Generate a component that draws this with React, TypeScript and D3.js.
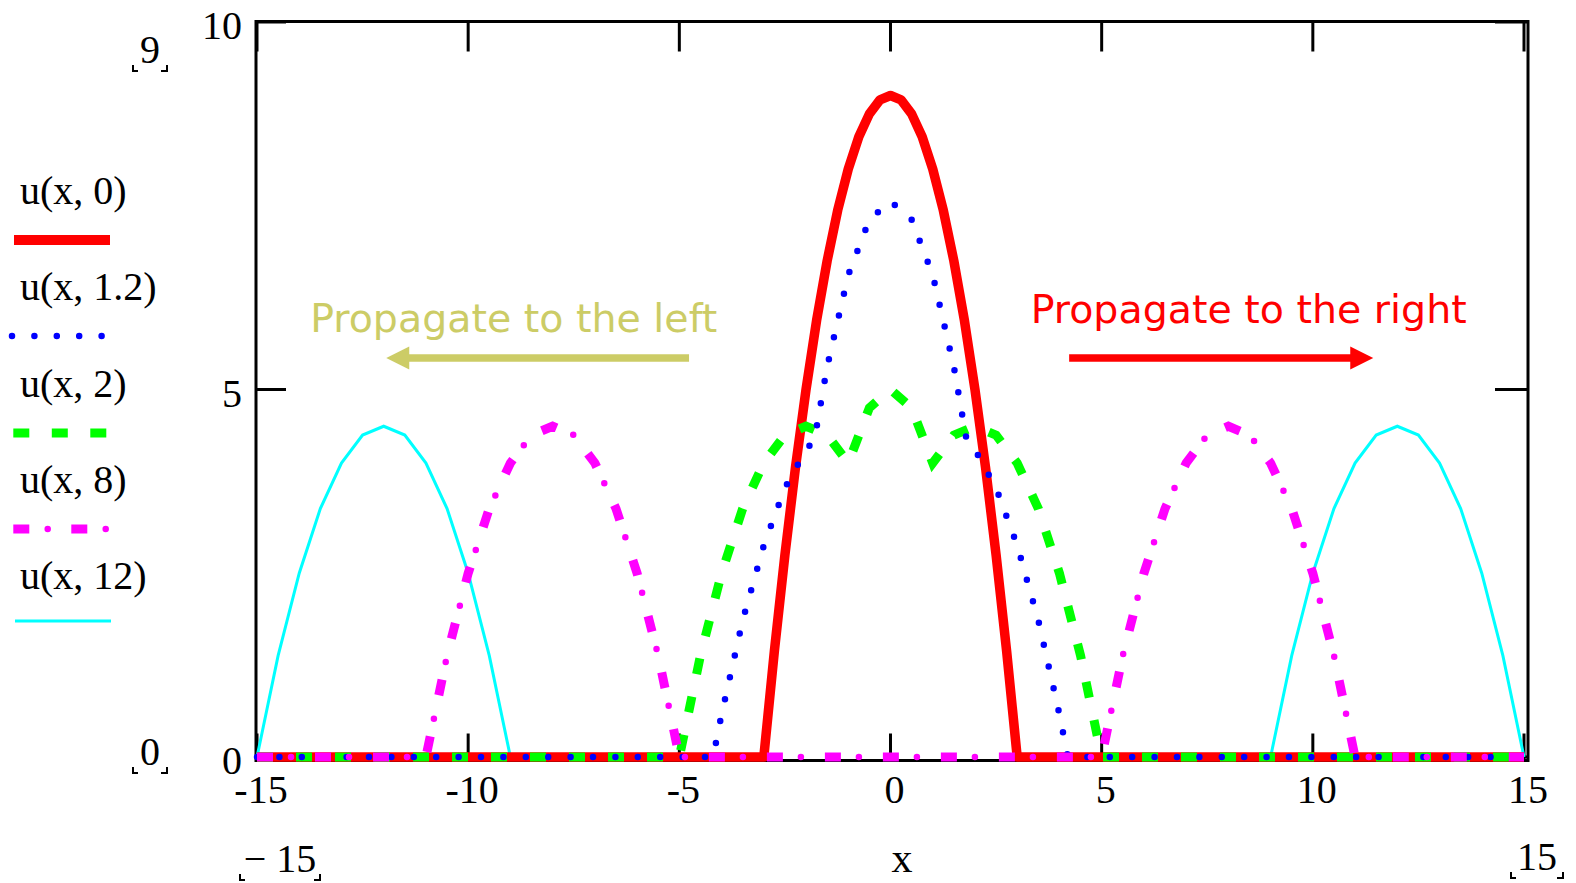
import React from "react";
import * as d3 from "d3";

const W = 1576;
const H = 883;

// u(x,0)  initial bump
const redX = [-15, -3, -2.75, -2.5, -2.25, -2, -1.75, -1.5, -1.25, -1, -0.75, -0.5, -0.25, 0, 0.25, 0.5, 0.75, 1, 1.25, 1.5, 1.75, 2, 2.25, 2.5, 2.75, 3, 15];
const redU = [0, 0, 1.44, 2.75, 3.94, 5, 5.94, 6.75, 7.44, 8, 8.44, 8.75, 8.94, 9, 8.94, 8.75, 8.44, 8, 7.44, 6.75, 5.94, 5, 3.94, 2.75, 1.44, 0, 0];

// u(x,1.2)
const blueX = [-15, -4.2, -4, -3.5, -3, -2.5, -2, -1.8, -1.5, -1, -0.5, 0, 0.5, 1, 1.5, 1.8, 2, 2.5, 3, 3.5, 4, 4.2, 15];
const blueU = [0, 0, 0.58, 1.86, 2.88, 3.66, 4.18, 4.32, 5.31, 6.56, 7.31, 7.56, 7.31, 6.56, 5.31, 4.32, 4.18, 3.66, 2.88, 1.86, 0.58, 0, 0];

// u(x,2)
const greenX = [-15, -5, -4.5, -4, -3.5, -3, -2.5, -2, -1.5, -1, -0.5, 0, 0.5, 1, 1.5, 2, 2.5, 3, 3.5, 4, 4.5, 5, 15];
const greenU = [0, 0, 1.38, 2.5, 3.38, 4, 4.38, 4.5, 4.38, 4, 4.75, 5, 4.75, 4, 4.38, 4.5, 4.38, 4, 3.38, 2.5, 1.38, 0, 0];

// u(x,8)
const magentaX = [-15, -11, -10.5, -10, -9.5, -9, -8.5, -8, -7.5, -7, -6.5, -6, -5.5, -5, 5, 5.5, 6, 6.5, 7, 7.5, 8, 8.5, 9, 9.5, 10, 10.5, 11, 15];
const magentaU = [0, 0, 1.38, 2.5, 3.38, 4, 4.38, 4.5, 4.38, 4, 3.38, 2.5, 1.38, 0, 0, 1.38, 2.5, 3.38, 4, 4.38, 4.5, 4.38, 4, 3.38, 2.5, 1.38, 0, 0];

// u(x,12)  (nothing drawn on the baseline between the two bumps)
const cyanX = [-15, -14.5, -14, -13.5, -13, -12.5, -12, -11.5, -11, -10.5, -10, -9.5, -9, 0, 9, 9.5, 10, 10.5, 11, 11.5, 12, 12.5, 13, 13.5, 14, 14.5, 15];
const cyanU = [0, 1.38, 2.5, 3.38, 4, 4.38, 4.5, 4.38, 4, 3.38, 2.5, 1.38, 0, null, 0, 1.38, 2.5, 3.38, 4, 4.38, 4.5, 4.38, 4, 3.38, 2.5, 1.38, 0];

const legendLabels = ["u(x, 0)", "u(x, 1.2)", "u(x, 2)", "u(x, 8)", "u(x, 12)"];
const xTicks = [-15, -10, -5, 0, 5, 10, 15];
const yTicks = [0, 5, 10];

const SERIF = "'Liberation Serif', 'Times New Roman', serif";
const SANS = "'DejaVu Sans', Verdana, sans-serif";

const x = d3.scaleLinear().domain([-15, 15]).range([257, 1524]);
const y = d3.scaleLinear().domain([0, 10]).range([757, 22]);

const frame = { left: 256, right: 1528, top: 21.5, bottom: 760.5 };

type Pt = { x: number; u: number | null };
const zip = (xs: number[], us: (number | null)[]): Pt[] => xs.map((v, i) => ({ x: v, u: us[i] }));

const line = d3
  .line<Pt>()
  .defined((d) => d.u != null)
  .x((d) => x(d.x))
  .y((d) => y(d.u as number));

function Marker({ text, cx, base, hw }: { text: string; cx: number; base: number; hw: number }) {
  const b = base + 2;
  return (
    <g>
      <text x={cx} y={base} textAnchor="middle" fontFamily={SERIF} fontSize={40} fill="#000">
        {text}
      </text>
      <path
        d={`M${cx - hw},${b} V${b + 6} H${cx - hw + 5} M${cx + hw - 6},${b + 6} H${cx + hw} V${b}`}
        stroke="#000"
        strokeWidth={2}
        fill="none"
      />
    </g>
  );
}

function Arrow({ from, to, u, color }: { from: number; to: number; u: number; color: string }) {
  const x0 = x(from);
  const x1 = x(to);
  const yy = y(u);
  const dir = Math.sign(x1 - x0);
  const head = 23;
  return (
    <g>
      <line x1={x0} x2={x1 - dir * (head - 2)} y1={yy} y2={yy} stroke={color} strokeWidth={7.5} />
      <polygon
        points={`${x1},${yy} ${x1 - dir * head},${yy - 11.5} ${x1 - dir * head},${yy + 11.5}`}
        fill={color}
      />
    </g>
  );
}

export default function App() {
  const red = zip(redX, redU);
  const blue = zip(blueX, blueU);
  const green = zip(greenX, greenU);
  const magenta = zip(magentaX, magentaU);
  const cyan = zip(cyanX, cyanU);

  const legendTextY = [204, 300, 397, 493, 589];
  const legendLineY = [240, 336, 433, 529, 621];

  return (
    <svg width={W} height={H} style={{ position: "absolute", left: 0, top: 0, background: "#fff" }}>
      {/* frame */}
      <rect
        x={frame.left}
        y={frame.top}
        width={frame.right - frame.left}
        height={frame.bottom - frame.top}
        fill="none"
        stroke="#000"
        strokeWidth={3}
      />
      {/* ticks */}
      {xTicks.map((t) => (
        <g key={"xt" + t}>
          <line x1={x(t)} x2={x(t)} y1={frame.top} y2={frame.top + 30} stroke="#000" strokeWidth={3} />
          <line x1={x(t)} x2={x(t)} y1={frame.bottom} y2={frame.bottom - 27} stroke="#000" strokeWidth={3} />
          <text x={x(t) + 4} y={803} textAnchor="middle" fontFamily={SERIF} fontSize={40} fill="#000">
            {t < 0 ? "-" + Math.abs(t) : t}
          </text>
        </g>
      ))}
      {yTicks.map((t) => (
        <g key={"yt" + t}>
          <line x1={frame.left} x2={frame.left + 30} y1={y(t)} y2={y(t)} stroke="#000" strokeWidth={3} />
          <line x1={frame.right} x2={frame.right - 33} y1={y(t)} y2={y(t)} stroke="#000" strokeWidth={3} />
          <text x={242} y={y(t) + 17} textAnchor="end" fontFamily={SERIF} fontSize={40} fill="#000">
            {t}
          </text>
        </g>
      ))}

      {/* traces */}
      <path d={line(cyan) || ""} fill="none" stroke="#00FFFF" strokeWidth={3} />
      <path d={line(red) || ""} fill="none" stroke="#FF0000" strokeWidth={9.5} strokeLinejoin="round" />
      <path d={line(green) || ""} fill="none" stroke="#00FF00" strokeWidth={9} strokeDasharray="16 23" />
      <path
        d={line(blue) || ""}
        fill="none"
        stroke="#0000FF"
        strokeWidth={6.5}
        strokeLinecap="round"
        strokeDasharray="0 22.4"
      />
      <path d={line(magenta) || ""} fill="none" stroke="#FF00FF" strokeWidth={9} strokeDasharray="16 42" />
      <path
        d={line(magenta) || ""}
        fill="none"
        stroke="#FF00FF"
        strokeWidth={6.5}
        strokeLinecap="round"
        strokeDasharray="0 58"
        strokeDashoffset={-34}
      />

      {/* legend */}
      {legendLabels.map((l, i) => (
        <text key={l} x={20} y={legendTextY[i]} fontFamily={SERIF} fontSize={40} fill="#000">
          {l}
        </text>
      ))}
      <line x1={14} x2={110} y1={legendLineY[0]} y2={legendLineY[0]} stroke="#FF0000" strokeWidth={10} />
      <line
        x1={12}
        x2={104}
        y1={legendLineY[1]}
        y2={legendLineY[1]}
        stroke="#0000FF"
        strokeWidth={6.5}
        strokeLinecap="round"
        strokeDasharray="0 22.4"
      />
      <line
        x1={13.3}
        x2={108}
        y1={legendLineY[2]}
        y2={legendLineY[2]}
        stroke="#00FF00"
        strokeWidth={9}
        strokeDasharray="16 22.5"
      />
      <line x1={13.3} x2={108} y1={legendLineY[3]} y2={legendLineY[3]} stroke="#FF00FF" strokeWidth={9} strokeDasharray="16 42" />
      <line
        x1={13.3}
        x2={108}
        y1={legendLineY[3]}
        y2={legendLineY[3]}
        stroke="#FF00FF"
        strokeWidth={6.5}
        strokeLinecap="round"
        strokeDasharray="0 58"
        strokeDashoffset={-34.4}
      />
      <line x1={15} x2={111} y1={legendLineY[4]} y2={legendLineY[4]} stroke="#00FFFF" strokeWidth={3} />

      {/* annotations */}
      <text x={x(-13.74)} y={y(5.78)} fontFamily={SANS} fontSize={39.5} fill="#CCCC66">
        Propagate to the left
      </text>
      <Arrow from={-4.77} to={-11.94} u={5.43} color="#CCCC66" />
      <text x={x(3.32)} y={y(5.9)} fontFamily={SANS} fontSize={39.5} fill="#FF0000">
        Propagate to the right
      </text>
      <Arrow from={4.23} to={11.43} u={5.43} color="#FF0000" />

      {/* axis limit markers and label */}
      <Marker text="9" cx={150} base={63} hw={17} />
      <Marker text="0" cx={150} base={765} hw={17} />
      <Marker text={"\u2212 15"} cx={280} base={872} hw={40} />
      <Marker text="15" cx={1537} base={870} hw={26} />
      <text x={902} y={872} textAnchor="middle" fontFamily={SERIF} fontSize={42} fill="#000">
        x
      </text>
    </svg>
  );
}
